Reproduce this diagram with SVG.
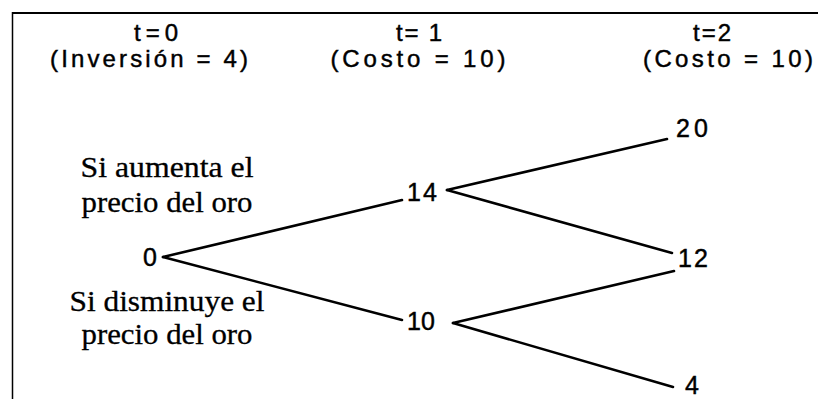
<svg xmlns="http://www.w3.org/2000/svg" width="818" height="399" viewBox="0 0 818 399">
  <style>
    .hd { font-family: "Liberation Sans", Arial, sans-serif; font-size: 24px; text-anchor: middle; fill: #000; stroke: #000; stroke-width: 0.45; }
    .num { font-family: "Liberation Sans", Arial, sans-serif; font-size: 25px; fill: #000; stroke: #000; stroke-width: 0.45; }
    .lbl { font-family: "Liberation Serif", "Times New Roman", serif; font-size: 29px; text-anchor: middle; fill: #000; stroke: #000; stroke-width: 0.3; }
    .edge { stroke: #000; stroke-width: 2.6; fill: none; stroke-linecap: round; }
    .frame { stroke: #000; fill: none; }
  </style>
  <rect width="818" height="399" fill="#fff"/>

  <!-- frame: top rule and left rule only -->
  <g id="frame">
    <line class="frame" x1="12" y1="13" x2="818" y2="13" stroke-width="2"/>
    <line class="frame" x1="12.5" y1="12" x2="12.5" y2="399" stroke-width="1.5"/>
  </g>

  <!-- period headers -->
  <g id="header-t0">
    <text class="hd" x="156" y="41" textLength="44">t=0</text>
    <text class="hd" x="149" y="67" textLength="198">(Inversión = 4)</text>
  </g>
  <g id="header-t1">
    <text class="hd" x="419" y="41" textLength="46">t= 1</text>
    <text class="hd" x="418" y="67" textLength="175">(Costo = 10)</text>
  </g>
  <g id="header-t2">
    <text class="hd" x="712" y="41" textLength="38">t=2</text>
    <text class="hd" x="728" y="67" textLength="170">(Costo = 10)</text>
  </g>

  <!-- branch labels -->
  <g id="label-up">
    <text class="lbl" x="167" y="177" textLength="173" lengthAdjust="spacingAndGlyphs">Si aumenta el</text>
    <text class="lbl" x="167" y="212" textLength="171" lengthAdjust="spacingAndGlyphs">precio del oro</text>
  </g>
  <g id="label-down">
    <text class="lbl" x="167" y="311" textLength="195" lengthAdjust="spacingAndGlyphs">Si disminuye el</text>
    <text class="lbl" x="167" y="344" textLength="171" lengthAdjust="spacingAndGlyphs">precio del oro</text>
  </g>

  <!-- connectors of the binomial tree -->
  <g id="connectors">
    <line class="edge" x1="163" y1="257" x2="402" y2="200"/>
    <line class="edge" x1="163" y1="257" x2="402" y2="320"/>
    <line class="edge" x1="447" y1="190" x2="667" y2="139"/>
    <line class="edge" x1="447" y1="190" x2="672" y2="253"/>
    <line class="edge" x1="453" y1="323" x2="674" y2="271"/>
    <line class="edge" x1="453" y1="323" x2="673" y2="387"/>
  </g>

  <!-- tree nodes -->
  <g id="node-0"><text class="num" x="143" y="266">0</text></g>
  <g id="node-14"><text class="num" x="407" y="201" textLength="30">14</text></g>
  <g id="node-10"><text class="num" x="407" y="330" textLength="28">10</text></g>
  <g id="node-20"><text class="num" x="676" y="137" textLength="32">20</text></g>
  <g id="node-12"><text class="num" x="678" y="267" textLength="30">12</text></g>
  <g id="node-4"><text class="num" x="685" y="394">4</text></g>
</svg>
